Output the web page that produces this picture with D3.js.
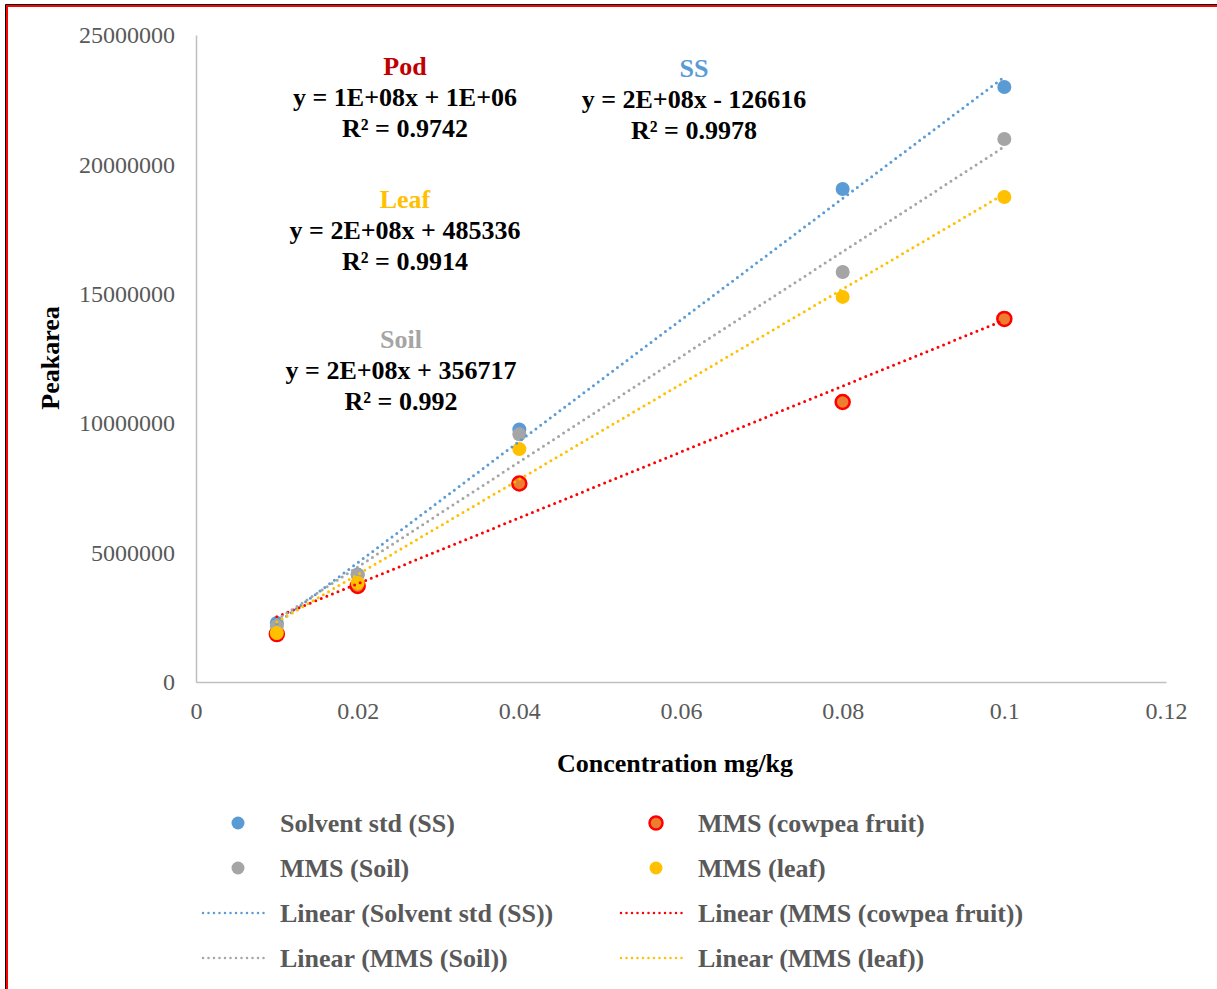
<!DOCTYPE html>
<html><head><meta charset="utf-8">
<script src="https://cdn.jsdelivr.net/npm/d3@7"></script>
<style>body{margin:0;background:#fff}svg{display:block}text{font-family:"Liberation Serif","Times New Roman",serif}</style>
</head><body><svg id="c" width="1217" height="989"></svg>
<script>
const concentrations = [0.01, 0.02, 0.04, 0.08, 0.1];
const seriesNames = ["Solvent std (SS)", "MMS (cowpea fruit)", "MMS (Soil)", "MMS (leaf)"];
const ssValues = [2280000, 4150000, 9760000, 19050000, 22990000];
const cowpeaValues = [1850000, 3710000, 7670000, 10820000, 14030000];
const soilValues = [2160000, 4130000, 9570000, 15840000, 20980000];
const leafValues = [1890000, 3830000, 9000000, 14880000, 18740000];
const xTicks = [0, 0.02, 0.04, 0.06, 0.08, 0.1, 0.12];
const yTicks = [0, 5000000, 10000000, 15000000, 20000000, 25000000];
const annotationTitles = ["Pod", "SS", "Leaf", "Soil"];
const annotationEquations = ["y = 1E+08x + 1E+06", "y = 2E+08x - 126616", "y = 2E+08x + 485336", "y = 2E+08x + 356717"];
const annotationR2 = ["R² = 0.9742", "R² = 0.9978", "R² = 0.9914", "R² = 0.992"];

const svg = d3.select("#c");
const x = d3.scaleLinear().domain([0, 0.12]).range([196, 1166]);
const y = d3.scaleLinear().domain([0, 25000000]).range([682, 35]);

// border
svg.append("rect").attr("x",0).attr("y",0).attr("width",1217).attr("height",989).attr("fill","#fff");
svg.append("path").attr("d","M5.5,989 V4.5 H1217").attr("fill","none").attr("stroke","#000").attr("stroke-width",1);
svg.append("path").attr("d","M7,989 V6 H1217").attr("fill","none").attr("stroke","#f00").attr("stroke-width",2);

const series = [
  {name: seriesNames[0], vals: ssValues, fill: "#5B9BD5", stroke: "#5B9BD5", line: "#5B9BD5"},
  {name: seriesNames[1], vals: cowpeaValues, fill: "#ED7D31", stroke: "#FF0000", line: "#FF0000"},
  {name: seriesNames[2], vals: soilValues, fill: "#A5A5A5", stroke: "#A5A5A5", line: "#A5A5A5"},
  {name: seriesNames[3], vals: leafValues, fill: "#FFC000", stroke: "#FFC000", line: "#FFC000"}
];

// axes
const xAxis = d3.axisBottom(x).tickValues(xTicks).tickSize(0).tickPadding(20).tickFormat(d => d3.format("")(+d.toFixed(2)));
const gx = svg.append("g").attr("transform","translate(0,682)").call(xAxis);
const yAxis = d3.axisLeft(y).tickValues(yTicks).tickSize(0).tickPadding(21).tickFormat(d3.format("d"));
const gy = svg.append("g").attr("transform","translate(196,0)").call(yAxis);
[gx, gy].forEach(g => {
  g.select(".domain").attr("stroke","#BFBFBF").attr("stroke-width",1.5);
  g.selectAll("text").attr("fill","#595959").attr("font-size",24).attr("font-family","Liberation Serif");
});
gx.selectAll("text").attr("dy","0.71em");

// axis titles
svg.append("text").attr("x",675).attr("y",772).attr("text-anchor","middle").attr("font-size",26).attr("font-weight","bold").text("Concentration mg/kg");
svg.append("text").attr("transform","translate(59,358) rotate(-90)").attr("text-anchor","middle").attr("font-size",26).attr("font-weight","bold").text("Peakarea");

// markers
series.forEach(s => {
  svg.append("g").selectAll("circle").data(s.vals).join("circle")
    .attr("cx",(d,i)=>x(concentrations[i])).attr("cy",d=>y(d)).attr("r",7)
    .attr("fill",s.fill).attr("stroke",s.stroke).attr("stroke-width",s.stroke===s.fill?0:2.5);
});

// trendlines (least squares)
function fit(xs, ys){
  const mx=d3.mean(xs), my=d3.mean(ys);
  let sxy=0,sxx=0; xs.forEach((v,i)=>{sxy+=(v-mx)*(ys[i]-my); sxx+=(v-mx)*(v-mx);});
  const b=sxy/sxx; return {b, a: my-b*mx};
}
const xMin = d3.min(concentrations), xMax = d3.max(concentrations);
series.forEach(s => {
  const f = fit(concentrations, s.vals);
  svg.append("line").attr("x1",x(xMin)).attr("y1",y(f.a+f.b*xMin)).attr("x2",x(xMax)).attr("y2",y(f.a+f.b*xMax))
    .attr("stroke",s.line).attr("stroke-width",3).attr("stroke-linecap","round").attr("stroke-dasharray","0 6");
});

// annotations
const annPos = [[405,75],[694,77],[405,208],[401,348]];
const annColors = ["#C00000","#5B9BD5","#FFC000","#A5A5A5"];
annotationTitles.forEach((t,i) => {
  const [ax, ay] = annPos[i];
  const g = svg.append("g").attr("font-weight","bold").attr("font-size",26).attr("text-anchor","middle");
  g.append("text").attr("x",ax).attr("y",ay).attr("fill",annColors[i]).text(t);
  g.append("text").attr("x",ax).attr("y",ay+31).attr("fill","#000").text(annotationEquations[i]);
  g.append("text").attr("x",ax).attr("y",ay+62).attr("fill","#000").text(annotationR2[i]);
});

// legend
const legCols = [202, 620], legRows = [823, 868, 913, 958];
const items = [];
series.forEach((s,i)=>items.push({type:"pt", s, label:s.name, col:i%2, row:Math.floor(i/2)}));
series.forEach((s,i)=>items.push({type:"ln", s, label:"Linear ("+s.name+")", col:i%2, row:2+Math.floor(i/2)}));
items.forEach(it => {
  const lx = legCols[it.col], ly = legRows[it.row];
  if (it.type==="pt") {
    svg.append("circle").attr("cx",lx+36).attr("cy",ly).attr("r",6.5).attr("fill",it.s.fill)
      .attr("stroke",it.s.stroke).attr("stroke-width",it.s.stroke===it.s.fill?0:2.5);
  } else {
    svg.append("line").attr("x1",lx+1).attr("x2",lx+66).attr("y1",ly).attr("y2",ly).attr("stroke",it.s.line)
      .attr("stroke-width",2.5).attr("stroke-linecap","round").attr("stroke-dasharray","0 5.5");
  }
  svg.append("text").attr("x",lx+78).attr("y",ly).attr("dy","0.35em").attr("font-size",26).attr("font-weight","bold")
    .attr("fill","#595959").text(it.label);
});
</script></body></html>
